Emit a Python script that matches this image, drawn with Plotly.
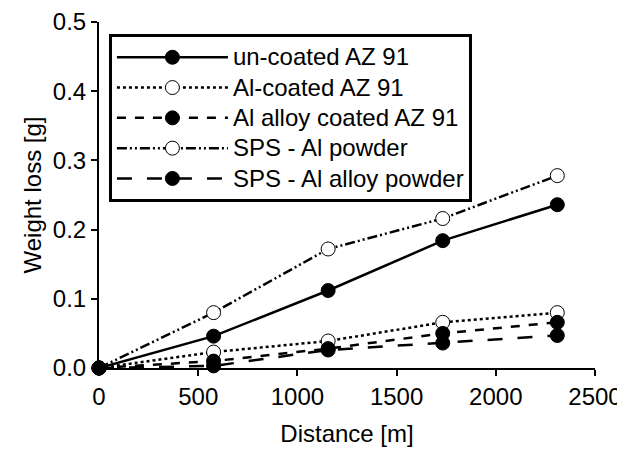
import plotly.graph_objects as go

distance = [0, 577.5, 1155, 1732.5, 2310]

uncoated = [0, 0.046, 0.112, 0.184, 0.236]
al_coated = [0, 0.023, 0.039, 0.066, 0.080]
al_alloy_coated = [0, 0.010, 0.028, 0.050, 0.066]
sps_al = [0, 0.080, 0.172, 0.216, 0.278]
sps_al_alloy = [0, 0.003, 0.026, 0.036, 0.047]

names = ["un-coated AZ 91", "Al-coated AZ 91", "Al alloy coated AZ 91",
         "SPS - Al powder", "SPS - Al alloy powder"]
series = [uncoated, al_coated, al_alloy_coated, sps_al, sps_al_alloy]
dashes = ["solid", "dot", "dash", "10px,3px,2px,3px,2px,3px", "longdash"]
fills = ["black", "white", "black", "white", "black"]

fig = go.Figure()
for name, y, dash, fill in zip(names, series, dashes, fills):
    fig.add_trace(go.Scatter(
        x=distance, y=y, mode="lines+markers",
        # legend rows are spaced by the small legend font, text drawn at 24px
        name='<span style="font-size:24px">' + name + '</span>',
        line=dict(color="black", width=2.5, dash=dash),
        marker=dict(size=14, color=fill, line=dict(color="black", width=1)),
        cliponaxis=False,
    ))

# page body has an 8px margin, so the figure is 8px smaller each way
fig.update_layout(
    width=617, height=443,
    margin=dict(l=91, r=30, t=14, b=83),
    plot_bgcolor="white", paper_bgcolor="white",
    font=dict(family="Liberation Sans, Arial", size=24, color="black"),
    legend=dict(
        x=0.02, y=0.965, xanchor="left", yanchor="top",
        bordercolor="black", borderwidth=3, bgcolor="white",
        font=dict(size=21), tracegroupgap=0, itemwidth=111,
    ),
)
fig.update_xaxes(
    range=[0, 2500], dtick=500, automargin=False, ticklabeloverflow="allow",
    title=dict(text="Distance [m]", font=dict(size=24), standoff=16),
    showline=True, linecolor="black", linewidth=2, ticks="outside",
    ticklen=6, tickwidth=2, tickcolor="black", showgrid=False, zeroline=False,
)
fig.update_yaxes(
    range=[0, 0.5], dtick=0.1, tickformat=".1f", automargin=False,
    title=dict(text="Weight loss [g]", font=dict(size=24), standoff=4),
    showline=True, linecolor="black", linewidth=2, ticks="outside",
    ticklen=6, tickwidth=2, tickcolor="black", showgrid=False, zeroline=False,
)

fig.write_html("out.html")
